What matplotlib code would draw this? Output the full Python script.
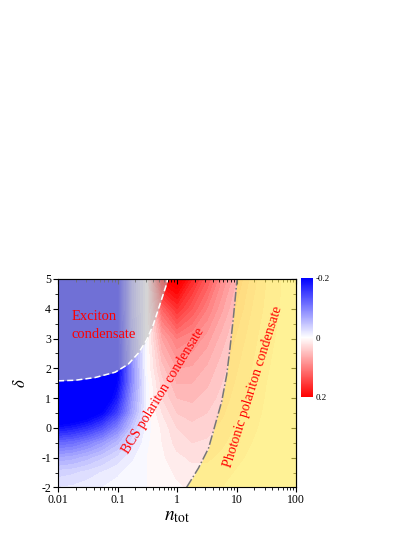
import numpy as np
import matplotlib
matplotlib.use("Agg")
import matplotlib.pyplot as plt
from matplotlib.ticker import FixedLocator, NullFormatter, MultipleLocator
from matplotlib.cm import ScalarMappable
from matplotlib.colors import Normalize

plt.rcParams['font.family'] = ['Liberation Serif', 'DejaVu Serif']
plt.rcParams['mathtext.fontset'] = 'stix'

# ------ data ------#
# grid: log10(n_tot) columns, detuning rows
LOGN = [-2, -1.75, -1.5, -1.25, -1, -0.75, -0.5, -0.25, 0, 0.25, 0.5, 0.75, 1, 1.25, 1.5, 1.75, 2]
DELTA = [-2, -1.5, -1, -0.5, 0, 0.5, 1, 1.5, 2, 3, 4, 5]

ROW_M20 = [-0.02, -0.018, -0.014, -0.01, -0.006, -0.003, 0, 0.003, 0.008, 0.012, 0.012, 0.01, 0.007, 0.005, 0.003, 0.002, 0.001]
ROW_M15 = [-0.035, -0.032, -0.026, -0.019, -0.012, -0.005, 0, 0.005, 0.012, 0.016, 0.016, 0.013, 0.009, 0.006, 0.004, 0.002, 0.001]
ROW_M10 = [-0.07, -0.065, -0.055, -0.042, -0.028, -0.012, 0, 0.008, 0.017, 0.022, 0.022, 0.017, 0.012, 0.008, 0.005, 0.003, 0.001]
ROW_M05 = [-0.12, -0.115, -0.1, -0.08, -0.055, -0.025, -0.002, 0.01, 0.024, 0.03, 0.028, 0.022, 0.015, 0.01, 0.006, 0.003, 0.001]
ROW_00 = [-0.19, -0.18, -0.165, -0.14, -0.1, -0.045, -0.005, 0.012, 0.03, 0.036, 0.034, 0.027, 0.018, 0.012, 0.007, 0.004, 0.002]
ROW_05 = [-0.26, -0.25, -0.23, -0.2, -0.15, -0.07, -0.005, 0.02, 0.04, 0.045, 0.04, 0.032, 0.022, 0.014, 0.008, 0.004, 0.002]
ROW_10 = [-0.3, -0.29, -0.27, -0.24, -0.18, -0.08, -0.005, 0.03, 0.05, 0.052, 0.046, 0.036, 0.025, 0.016, 0.009, 0.005, 0.002]
ROW_15 = [-0.3, -0.3, -0.28, -0.25, -0.2, -0.09, -0.005, 0.035, 0.06, 0.06, 0.052, 0.04, 0.028, 0.018, 0.01, 0.005, 0.002]
ROW_20 = [-0.3, -0.3, -0.28, -0.25, -0.21, -0.09, 0, 0.045, 0.07, 0.068, 0.058, 0.044, 0.031, 0.02, 0.011, 0.006, 0.002]
ROW_30 = [-0.3, -0.3, -0.28, -0.25, -0.21, -0.08, 0, 0.07, 0.1, 0.09, 0.075, 0.055, 0.038, 0.024, 0.014, 0.007, 0.003]
ROW_40 = [-0.3, -0.3, -0.28, -0.25, -0.21, -0.07, 0, 0.12, 0.16, 0.13, 0.1, 0.072, 0.048, 0.03, 0.017, 0.009, 0.003]
ROW_50 = [-0.3, -0.3, -0.28, -0.25, -0.21, -0.07, 0, 0.2, 0.22, 0.17, 0.13, 0.09, 0.06, 0.036, 0.02, 0.01, 0.004]

# exciton condensate boundary (white dashed)
EXC_LOGN = [-2.0, -1.71, -1.38, -1.04, -0.82, -0.65, -0.51, -0.40, -0.29, -0.17, -0.16]
EXC_D = [1.58, 1.60, 1.69, 1.87, 2.14, 2.51, 2.95, 3.46, 4.13, 4.86, 5.0]

# photonic condensate boundary (grey dash-dot)
PHOT_LOGN = [0.16, 0.36, 0.53, 0.64, 0.75, 0.835, 0.89, 0.946, 1.0, 1.01]
PHOT_D = [-2.0, -1.35, -0.68, 0.10, 0.88, 1.78, 2.67, 3.68, 4.8, 5.0]

X_TICKS = [0.01, 0.1, 1, 10, 100]
X_LABELS = ['0.01', '0.1', '1', '10', '100']
Y_TICKS = [-2, -1, 0, 1, 2, 3, 4, 5]
CB_TICKS = [-0.2, 0, 0.2]
CB_LABELS = ['-0.2', '0', '0.2']

#------------------------#

field = np.array([ROW_M20, ROW_M15, ROW_M10, ROW_M05, ROW_00, ROW_05,
                  ROW_10, ROW_15, ROW_20, ROW_30, ROW_40, ROW_50])

RECT = [0.1398, 0.0922, 0.5735, 0.3883]
fig = plt.figure(figsize=(4.15, 5.37), dpi=100)

# background map, drawn against log10(n) so the shading is smooth in log space
bg = fig.add_axes(RECT)
norm = Normalize(vmin=-0.2, vmax=0.2)
levels = np.linspace(-0.2, 0.2, 41)
bg.contourf(LOGN, DELTA, field, levels=levels, cmap='bwr', norm=norm, extend='both')
bg.set_xlim(LOGN[0], LOGN[-1])
bg.set_ylim(-2, 5)
bg.axis('off')

ax = fig.add_axes(RECT)
ax.patch.set_visible(False)

# exciton region overlay
exc_n = 10.0 ** np.array(EXC_LOGN)
ax.fill_between(exc_n, EXC_D, 5, color='#bcbcbc', alpha=0.6, lw=0)
ax.plot(exc_n, EXC_D, color='white', lw=1.1, ls=(0, (4, 2)))

# photonic region overlay
phot_n = 10.0 ** np.array(PHOT_LOGN)
ax.fill_betweenx(PHOT_D, phot_n, 100, color='#ffee55', alpha=0.6, lw=0)
ax.plot(phot_n, PHOT_D, color='#777777', lw=1.1, ls='-.')

ax.set_xscale('log')
ax.set_xlim(0.01, 100)
ax.set_ylim(-2, 5)

ax.xaxis.set_major_locator(FixedLocator(X_TICKS))
ax.set_xticklabels(X_LABELS)
ax.xaxis.set_minor_formatter(NullFormatter())
ax.set_yticks(Y_TICKS)
ax.set_yticklabels([str(v) for v in Y_TICKS])
ax.yaxis.set_minor_locator(MultipleLocator(0.5))
ax.tick_params(which='both', direction='out', top=False, right=False, labelsize=8.5, pad=1.5)
ax.tick_params(which='major', length=3.5, width=0.8)
ax.tick_params(which='minor', length=2, width=0.6)

# inward ticks on top and right
sx = ax.secondary_xaxis('top')
sx.xaxis.set_major_locator(FixedLocator(X_TICKS))
sx.xaxis.set_major_formatter(NullFormatter())
sx.xaxis.set_minor_formatter(NullFormatter())
sx.tick_params(which='both', direction='in')
sx.tick_params(which='major', length=3.5, width=0.8)
sx.tick_params(which='minor', length=2, width=0.6)
sy = ax.secondary_yaxis('right')
sy.set_yticks(Y_TICKS)
sy.yaxis.set_major_formatter(NullFormatter())
sy.yaxis.set_minor_locator(MultipleLocator(0.5))
sy.tick_params(which='both', direction='in')
sy.tick_params(which='major', length=3.5, width=0.8)
sy.tick_params(which='minor', length=2, width=0.6)

ax.set_xlabel(r'$n_{\mathrm{tot}}$', fontsize=14, labelpad=1)
ax.set_ylabel(r'$\delta$', fontsize=12, labelpad=9, rotation=90)

# region labels
ax.text(10 ** -1.77, 3.43, 'Exciton\ncondensate', color='red', fontsize=10.5,
        ha='left', va='center', linespacing=1.45)
ax.text(10 ** -0.23, 1.25, 'BCS polariton condensate', color='red', fontsize=10,
        ha='center', va='center', rotation=58.5, rotation_mode='anchor')
ax.text(10 ** 1.28, 1.39, 'Photonic polariton condensate', color='red', fontsize=10,
        ha='center', va='center', rotation=72.5, rotation_mode='anchor')

# colorbar
cax = fig.add_axes([0.7253, 0.2607, 0.0289, 0.2216])
cbar = fig.colorbar(ScalarMappable(norm=norm, cmap='bwr'), cax=cax, ticks=CB_TICKS)
cbar.ax.set_yticklabels(CB_LABELS)
cbar.ax.invert_yaxis()
cbar.outline.set_visible(False)
cbar.ax.tick_params(length=0, labelsize=6.5, pad=2)

fig.savefig('out.png', dpi=100)
